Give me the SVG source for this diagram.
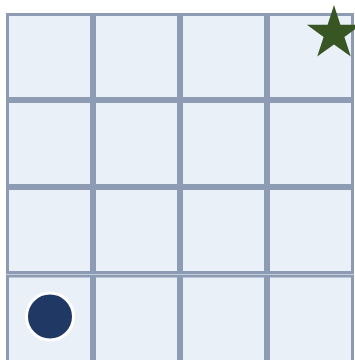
<svg xmlns="http://www.w3.org/2000/svg" width="355" height="360" viewBox="0 0 355 360">
<style>
.cell{fill:#e9f0f8;stroke:#8e9bb4;stroke-width:3}
</style>
<rect width="355" height="360" fill="#ffffff"/>
<g id="grid">
<g id="r0"><rect class="cell" x="7.5" y="14.5" width="84" height="84"/><rect class="cell" x="94.5" y="14.5" width="84" height="84"/><rect class="cell" x="181.5" y="14.5" width="84" height="84"/><rect class="cell" x="268.5" y="14.5" width="84" height="84"/></g>
<g id="r1"><rect class="cell" x="7.5" y="101.5" width="84" height="84"/><rect class="cell" x="94.5" y="101.5" width="84" height="84"/><rect class="cell" x="181.5" y="101.5" width="84" height="84"/><rect class="cell" x="268.5" y="101.5" width="84" height="84"/></g>
<g id="r2"><rect class="cell" x="7.5" y="188.5" width="84" height="84"/><rect class="cell" x="94.5" y="188.5" width="84" height="84"/><rect class="cell" x="181.5" y="188.5" width="84" height="84"/><rect class="cell" x="268.5" y="188.5" width="84" height="84"/></g>
<g id="r3"><rect class="cell" x="7.5" y="276" width="84" height="90"/><rect class="cell" x="94.5" y="276" width="84" height="90"/><rect class="cell" x="181.5" y="276" width="84" height="90"/><rect class="cell" x="268.5" y="276" width="84" height="90"/></g>
</g>
<g id="goal"><polygon fill="#375623" transform="translate(334,33.5)" points="0,-28.5 6.4,-8.8 27.1,-8.8 10.4,3.4 16.8,23.1 0,10.9 -16.8,23.1 -10.4,3.4 -27.1,-8.8 -6.4,-8.8"/></g>
<g id="agent"><circle cx="50" cy="316.5" r="23.5" fill="#1f3864" stroke="#ffffff" stroke-width="3"/></g>
</svg>
